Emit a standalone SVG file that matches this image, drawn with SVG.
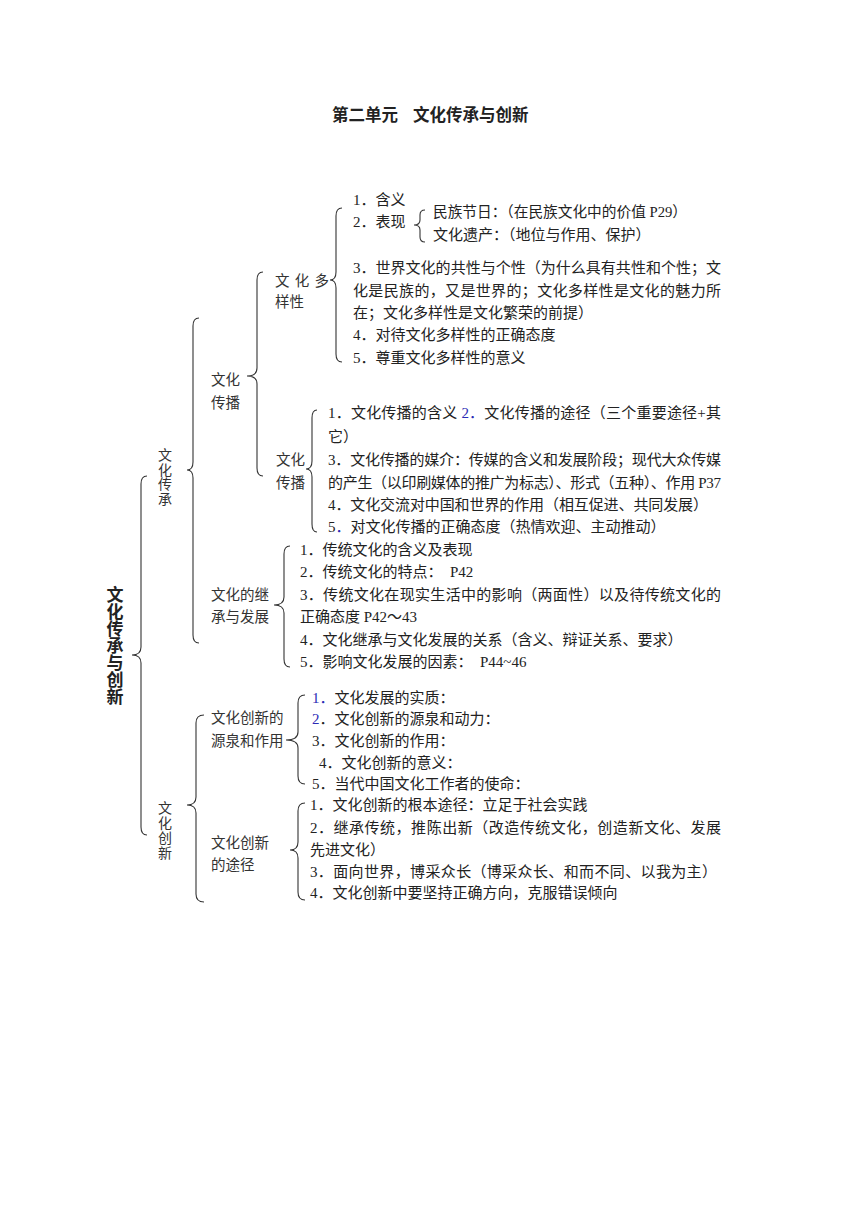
<svg xmlns="http://www.w3.org/2000/svg" width="860" height="1216" viewBox="0 0 860 1216">
<style>
text{font-family:"Liberation Serif","Noto Sans CJK SC",serif;fill:#222;font-size:15px}
.t{font-size:16.5px;font-weight:bold}
.m{font-size:17px;font-weight:bold;text-anchor:middle}
.v{font-size:14px;text-anchor:middle;fill:#333}
.l{font-size:14.5px;fill:#333}
.b{fill:#2b2bb5}
.br{fill:none;stroke:#333;stroke-width:1.1}
</style>
<rect width="860" height="1216" fill="#fff"/>
<text class="t" x="332" y="121" xml:space="preserve">第二单元  <tspan x="413">文化传承与创新</tspan></text>

<g id="connectors">
<path class="br" d="M147 476 Q141 476 141 484 L141 647 Q141 655 132 655 Q141 655 141 663 L141 827 Q141 835 147 835"/>
<path class="br" d="M199 318 Q193 318 193 326 L193 462 Q193 470 187 470 Q193 470 193 478 L193 635 Q193 643 199 643"/>
<path class="br" d="M263 272 Q257 272 257 280 L257 368 Q257 376 247 376 Q257 376 257 384 L257 468 Q257 476 263 476"/>
<path class="br" d="M342 208 Q336 208 336 216 L336 272 Q336 280 330 280 Q336 280 336 288 L336 354 Q336 362 342 362"/>
<path class="br" d="M317 410 Q312 410 312 418 L312 461 Q312 469 306 469 Q312 469 312 477 L312 524 Q312 532 317 532"/>
<path class="br" d="M290 546 Q284 546 284 554 L284 597 Q284 605 274 605 Q284 605 284 613 L284 659 Q284 667 290 667"/>
<path class="br" d="M204 715 Q196 715 196 723 L196 797 Q196 805 187 805 Q196 805 196 813 L196 894 Q196 902 204 902"/>
<path class="br" d="M305 695 Q298 695 298 703 L298 732 Q298 740 286 740 Q298 740 298 748 L298 776 Q298 784 305 784"/>
<path class="br" d="M305 803 Q298 803 298 811 L298 842 Q298 850 290 850 Q298 850 298 858 L298 892 Q298 900 305 900"/>
<path class="br" d="M425 210 Q420 210 420 215 L420 220 Q420 225 414 225 Q420 225 420 230 L420 237 Q420 242 425 242"/>
</g>

<g id="root">
<text class="m"><tspan x="115" y="601">文</tspan><tspan x="115" y="618">化</tspan><tspan x="115" y="635">传</tspan><tspan x="115" y="652">承</tspan><tspan x="115" y="669">与</tspan><tspan x="115" y="686">创</tspan><tspan x="115" y="703">新</tspan></text>
</g>

<g id="n-chuancheng">
<text class="v"><tspan x="165" y="460">文</tspan><tspan x="165" y="474.5">化</tspan><tspan x="165" y="489">传</tspan><tspan x="165" y="503.5">承</tspan></text>
</g>

<g id="n-chuanbo">
<text class="l" x="211" y="385">文化</text>
<text class="l" x="211" y="408">传播</text>
</g>

<g id="n-duoyang">
<text class="l" x="275" y="286" textLength="54" lengthAdjust="spacing" xml:space="preserve">文 化 多</text>
<text class="l" x="275" y="307">样性</text>
<text x="353" y="205">1．含义</text>
<text x="353" y="227">2．表现</text>
<text x="433" y="217" textLength="254" lengthAdjust="spacingAndGlyphs">民族节日：（在民族文化中的价值 P29）</text>
<text x="433" y="240">文化遗产：（地位与作用、保护）</text>
<text x="353" y="273" textLength="368" lengthAdjust="spacing">3．世界文化的共性与个性（为什么具有共性和个性；文</text>
<text x="353" y="296" textLength="368" lengthAdjust="spacing">化是民族的，又是世界的；文化多样性是文化的魅力所</text>
<text x="353" y="318">在；文化多样性是文化繁荣的前提）</text>
<text x="353" y="340">4．对待文化多样性的正确态度</text>
<text x="353" y="363">5．尊重文化多样性的意义</text>
</g>

<g id="n-chuanbo2">
<text class="l" x="276" y="465">文化</text>
<text class="l" x="276" y="488">传播</text>
<text x="328" y="418" textLength="393" lengthAdjust="spacing" xml:space="preserve">1．文化传播的含义 <tspan class="b">2．</tspan>文化传播的途径（三个重要途径+其</text>
<text x="328" y="442">它）</text>
<text x="328" y="465" textLength="393" lengthAdjust="spacing">3．文化传播的媒介：传媒的含义和发展阶段；现代大众传媒</text>
<text x="328" y="488" textLength="393" lengthAdjust="spacing">的产生（以印刷媒体的推广为标志）、形式（五种）、作用 P37</text>
<text x="328" y="510" textLength="380" lengthAdjust="spacing">4．文化交流对中国和世界的作用（相互促进、共同发展）</text>
<text x="328" y="532">5<tspan class="b">．</tspan>对文化传播的正确态度（热情欢迎、主动推动）</text>
</g>

<g id="n-jicheng">
<text class="l" x="211" y="600">文化的继</text>
<text class="l" x="211" y="622">承与发展</text>
<text x="300" y="555">1．传统文化的含义及表现</text>
<text x="300" y="577" xml:space="preserve">2．传统文化的特点：  P42</text>
<text x="300" y="600" textLength="421" lengthAdjust="spacing">3．传统文化在现实生活中的影响（两面性）以及待传统文化的</text>
<text x="300" y="622">正确态度 P42～43</text>
<text x="300" y="645">4．文化继承与文化发展的关系（含义、辩证关系、要求）</text>
<text x="300" y="667" xml:space="preserve">5．影响文化发展的因素：  P44~46</text>
</g>

<g id="n-chuangxin">
<text class="v"><tspan x="165" y="813">文</tspan><tspan x="165" y="828">化</tspan><tspan x="165" y="843">创</tspan><tspan x="165" y="858">新</tspan></text>
</g>

<g id="n-yuanquan">
<text class="l" x="211" y="723">文化创新的</text>
<text class="l" x="211" y="746">源泉和作用</text>
<text x="312" y="703"><tspan class="b">1．</tspan>文化发展的实质：</text>
<text x="312" y="724"><tspan class="b">2</tspan>．文化创新的源泉和动力：</text>
<text x="312" y="746">3．文化创新的作用：</text>
<text x="319" y="768">4．文化创新的意义：</text>
<text x="312" y="789">5．当代中国文化工作者的使命：</text>
</g>

<g id="n-tujing">
<text class="l" x="211" y="848">文化创新</text>
<text class="l" x="211" y="870">的途径</text>
<text x="310" y="810">1．文化创新的根本途径：立足于社会实践</text>
<text x="310" y="833" textLength="411" lengthAdjust="spacing">2．继承传统，推陈出新（改造传统文化，创造新文化、发展</text>
<text x="310" y="855">先进文化）</text>
<text x="310" y="877" textLength="407" lengthAdjust="spacing">3．面向世界，博采众长（博采众长、和而不同、以我为主）</text>
<text x="310" y="898">4．文化创新中要坚持正确方向，克服错误倾向</text>
</g>
</svg>
